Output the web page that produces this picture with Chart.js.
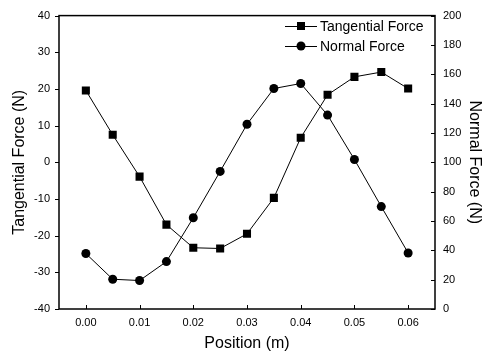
<!DOCTYPE html>
<html>
<head>
<meta charset="utf-8">
<script src="https://cdn.jsdelivr.net/npm/chart.js@4/dist/chart.umd.min.js"></script>
<style>
html,body{margin:0;padding:0;background:#fff;}
#wrap{width:490px;height:358px;}
</style>
</head>
<body>
<div id="wrap"><canvas id="c" width="490" height="358"></canvas></div>
<script>
const positions = [0.000, 0.005, 0.010, 0.015, 0.020, 0.025, 0.030, 0.035, 0.040, 0.045, 0.050, 0.055, 0.060];
const tangentialForce = [19.6, 7.5, -3.9, -17.0, -23.3, -23.5, -19.5, -9.7, 6.7, 18.4, 23.3, 24.6, 20.1];
const normalForce = [37.8, 20.3, 19.4, 32.3, 62.2, 93.8, 125.9, 150.3, 153.7, 132.2, 101.9, 69.8, 38.2];
const xTickValues = [0.00, 0.01, 0.02, 0.03, 0.04, 0.05, 0.06];
const leftTickValues = [-40, -30, -20, -10, 0, 10, 20, 30, 40];
const rightTickValues = [0, 20, 40, 60, 80, 100, 120, 140, 160, 180, 200];
const seriesNames = ['Tangential Force', 'Normal Force'];

const FONT = 'Liberation Sans, Arial, Helvetica, sans-serif';

const framePlugin = {
  id: 'frame',
  afterDatasetsDraw(chart) {
    const ctx = chart.ctx, a = chart.chartArea;
    ctx.save();
    ctx.strokeStyle = '#000';
    ctx.lineWidth = 1.5;
    ctx.strokeRect(a.left, a.top, a.right - a.left, a.bottom - a.top);
    ctx.lineWidth = 1;
    const L = 4;
    chart.scales.x.ticks.forEach(t => {
      const px = Math.round(chart.scales.x.getPixelForValue(t.value)) + 0.5;
      ctx.beginPath(); ctx.moveTo(px, a.bottom); ctx.lineTo(px, a.bottom - L); ctx.stroke();
    });
    chart.scales.y.ticks.forEach(t => {
      const py = Math.round(chart.scales.y.getPixelForValue(t.value)) + 0.5;
      ctx.beginPath(); ctx.moveTo(a.left, py); ctx.lineTo(a.left - L, py); ctx.stroke();
    });
    chart.scales.y2.ticks.forEach(t => {
      const py = Math.round(chart.scales.y2.getPixelForValue(t.value)) + 0.5;
      ctx.beginPath(); ctx.moveTo(a.right, py); ctx.lineTo(a.right - L, py); ctx.stroke();
    });
    // legend
    ctx.font = '14px ' + FONT;
    ctx.fillStyle = '#000';
    ctx.textBaseline = 'middle';
    const lx0 = 285, lx1 = 317, ys = [26, 46];
    chart.data.datasets.forEach((ds, i) => {
      const y = ys[i];
      ctx.beginPath(); ctx.moveTo(lx0, y + 0.5); ctx.lineTo(lx1, y + 0.5); ctx.stroke();
      const cx = (lx0 + lx1) / 2;
      ctx.beginPath();
      if (ds.pointStyle === 'rect') {
        ctx.rect(cx - 4, y - 4, 8, 8);
      } else {
        ctx.arc(cx, y, 4.5, 0, Math.PI * 2);
      }
      ctx.fill();
      ctx.fillText(ds.label, 320, y + 1);
    });
    ctx.restore();
  }
};

new Chart(document.getElementById('c'), {
  type: 'line',
  data: {
    datasets: [
      {
        label: seriesNames[0],
        data: positions.map((x, i) => ({x: x, y: tangentialForce[i]})),
        yAxisID: 'y',
        borderColor: '#000', borderWidth: 1,
        pointStyle: 'rect', pointRadius: 5.7,
        pointBackgroundColor: '#000', pointBorderColor: '#000', pointBorderWidth: 0,
        tension: 0
      },
      {
        label: seriesNames[1],
        data: positions.map((x, i) => ({x: x, y: normalForce[i]})),
        yAxisID: 'y2',
        borderColor: '#000', borderWidth: 1,
        pointStyle: 'circle', pointRadius: 4.5,
        pointBackgroundColor: '#000', pointBorderColor: '#000', pointBorderWidth: 0,
        tension: 0
      }
    ]
  },
  options: {
    responsive: false,
    animation: false,
    layout: {padding: {top: 14, left: 0, right: 0, bottom: 0}},
    plugins: {legend: {display: false}, tooltip: {enabled: false}},
    scales: {
      x: {
        type: 'linear', min: -0.005, max: 0.065,
        afterBuildTicks: s => { s.ticks = xTickValues.map(v => ({value: v})); },
        afterFit: s => { s.height = 49; },
        grid: {display: false, drawTicks: false},
        border: {display: false},
        ticks: {color: '#000', font: {family: FONT, size: 11}, padding: 7, maxRotation: 0,
                callback: v => v.toFixed(2)},
        title: {display: true, text: 'Position (m)', color: '#000', font: {family: FONT, size: 16}, padding: {top: 0, bottom: 5}}
      },
      y: {
        type: 'linear', position: 'left', min: -40, max: 40,
        afterBuildTicks: s => { s.ticks = leftTickValues.map(v => ({value: v})); },
        afterFit: s => { s.width = 59; },
        grid: {display: false, drawTicks: false},
        border: {display: false},
        ticks: {color: '#000', font: {family: FONT, size: 11}, padding: 9},
        title: {display: true, text: 'Tangential Force (N)', color: '#000', font: {family: FONT, size: 16}, padding: {top: 10, bottom: 0}}
      },
      y2: {
        type: 'linear', position: 'right', min: 0, max: 200,
        afterBuildTicks: s => { s.ticks = rightTickValues.map(v => ({value: v})); },
        afterFit: s => { s.width = 55; },
        grid: {display: false, drawTicks: false},
        border: {display: false},
        ticks: {color: '#000', font: {family: FONT, size: 11}, padding: 8},
        title: {display: true, text: 'Normal Force (N)', color: '#000', font: {family: FONT, size: 16}, padding: {top: 6, bottom: 0}}
      }
    }
  },
  plugins: [framePlugin]
});
</script>
</body>
</html>
